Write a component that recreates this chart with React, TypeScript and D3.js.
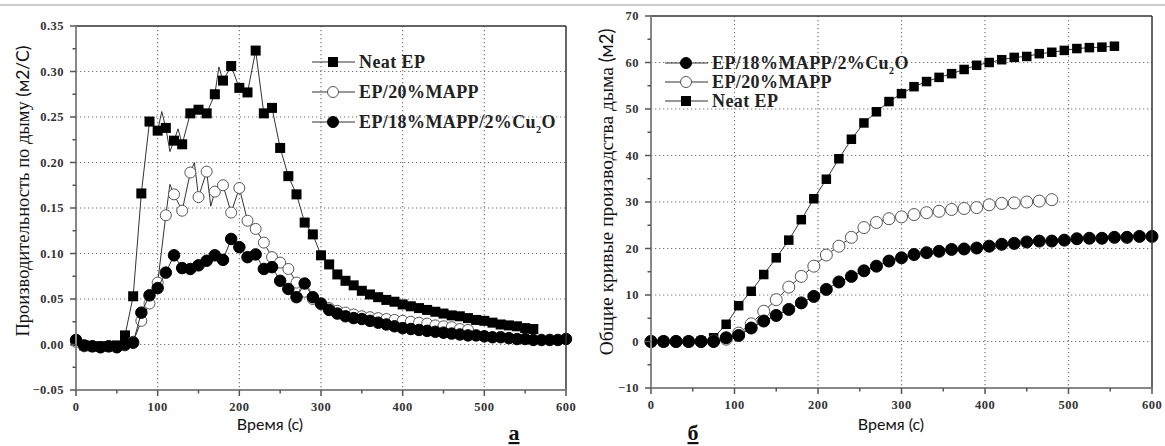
import React from 'react';
import * as d3 from 'd3';

const W = 1165, H = 446;

// panel а: smoke production rate, one marker every 10 s
const stepA = 10;
const neatA = [
  0.004, -0.001, -0.002, -0.002, -0.002, -0.001, 0.01, 0.053, 0.166, 0.245,
  0.235, 0.238, 0.224, 0.22, 0.254, 0.258, 0.254, 0.275, 0.29, 0.306,
  0.282, 0.277, 0.323, 0.254, 0.26, 0.216, 0.185, 0.165, 0.134, 0.121,
  0.098, 0.088, 0.077, 0.07, 0.065, 0.059, 0.055, 0.052, 0.049, 0.047,
  0.044, 0.042, 0.04, 0.038, 0.036, 0.034, 0.032, 0.031, 0.029, 0.027,
  0.026, 0.024, 0.022, 0.021, 0.02, 0.018, 0.017,
];
const mappA = [
  0.003, -0.002, -0.002, -0.003, -0.002, -0.003, -0.001, 0.003, 0.026, 0.045,
  0.068, 0.142, 0.165, 0.147, 0.189, 0.162, 0.19, 0.168, 0.175, 0.145,
  0.172, 0.136, 0.127, 0.112, 0.096, 0.09, 0.083, 0.068, 0.058, 0.05,
  0.044, 0.04, 0.037, 0.035, 0.033, 0.031, 0.03, 0.029, 0.028, 0.027,
  0.026, 0.025, 0.024, 0.023, 0.021, 0.02, 0.019, 0.017, 0.016,
];
const cuA = [
  0.005, -0.001, -0.002, -0.003, -0.002, -0.003, 0, 0.002, 0.035, 0.054,
  0.062, 0.079, 0.098, 0.084, 0.083, 0.087, 0.092, 0.098, 0.093, 0.116,
  0.107, 0.096, 0.099, 0.083, 0.085, 0.07, 0.061, 0.052, 0.067, 0.052,
  0.045, 0.038, 0.034, 0.031, 0.029, 0.028, 0.026, 0.024, 0.022, 0.02,
  0.018, 0.017, 0.016, 0.015, 0.014, 0.013, 0.012, 0.011, 0.01, 0.01,
  0.009, 0.008, 0.008, 0.007, 0.006, 0.006, 0.005, 0.005, 0.005, 0.005, 0.006,
];
// the raw trace has a few extra points between markers
const neatSpikesA = [[105, 0.256], [115, 0.212], [125, 0.237], [175, 0.305]];
const mappSpikesA = [[115, 0.176], [145, 0.2], [165, 0.152]];

// panel б: total smoke production, one marker every 15 s
const stepB = 15;
const cuB = [
  0, 0, 0, 0, 0, 0, 0.8, 1.3, 2.9, 4.4, 5.6, 6.9, 8.3, 9.7, 11.2, 12.8,
  14.0, 15.2, 16.2, 17.3, 18.0, 18.7, 19.1, 19.4, 19.8, 19.9,
  20.1, 20.5, 20.9, 21.1, 21.4, 21.6, 21.6, 21.8, 22.1, 22.2,
  22.2, 22.4, 22.4, 22.6, 22.6,
];
const mappB = [
  0, 0, 0, 0, 0, 0.1, 0.5, 1.8, 3.8, 6.5, 9.0, 11.7, 14.0, 16.2, 18.6, 20.5,
  22.4, 24.5, 25.6, 26.4, 26.8, 27.3, 27.7, 28.0, 28.4, 28.6,
  28.8, 29.4, 29.7, 29.8, 30.0, 30.2, 30.5,
];
const neatB = [
  0, 0, 0, 0, 0.1, 0.8, 3.7, 7.7, 10.8, 14.4, 18.0, 21.8, 26.2, 30.7, 34.9, 39.3,
  43.5, 47.0, 49.4, 51.6, 53.3, 54.8, 55.9, 56.8, 57.6, 58.5,
  59.4, 60.0, 60.6, 61.1, 61.3, 61.9, 62.2, 62.6, 63.0, 63.2,
  63.3, 63.5,
];

const timeTicks = [0, 100, 200, 300, 400, 500, 600];
const rateTicks = [-0.05, 0, 0.05, 0.1, 0.15, 0.2, 0.25, 0.3, 0.35];
const totalTicks = [-10, 0, 10, 20, 30, 40, 50, 60, 70];

const NEAT = 'Neat EP';
const MAPP = 'EP/20%MAPP';
const CU = 'EP/18%MAPP/2%Cu';

const serif = '"Liberation Serif", "Times New Roman", serif';
const sans = 'Lato, "Open Sans", sans-serif';

function Marker({ shape, cx, cy, s }) {
  if (shape === 'square')
    return <rect x={cx - s / 2} y={cy - s / 2} width={s} height={s} fill="#000" />;
  return (
    <circle cx={cx} cy={cy} r={s / 2}
      fill={shape === 'open' ? '#fff' : '#000'}
      stroke={shape === 'open' ? '#555' : '#000'} strokeWidth={1} />
  );
}

function LegendText({ label }) {
  if (label !== CU) return <>{label}</>;
  return (
    <>
      {label}
      <tspan fontSize={10} dy={5}>2</tspan>
      <tspan dy={-5}>O</tspan>
    </>
  );
}

function Panel({ p }) {
  const x = d3.scaleLinear().domain([0, 600]).range([p.left, p.right]);
  const y = d3.scaleLinear().domain(p.yDomain).range([p.bottom, p.top]);
  const line = d3.line().x(d => x(d[0])).y(d => y(d[1]));
  const fmt = p.fmt;

  const minorX = timeTicks.slice(1).map((t, i) => (t + timeTicks[i]) / 2);
  const minorY = p.yTicks.slice(1).map((t, i) => (t + p.yTicks[i]) / 2);

  return (
    <g>
      {/* dotted grid */}
      {timeTicks.slice(1, -1).map(t => (
        <line key={'gx' + t} x1={x(t)} x2={x(t)} y1={p.top} y2={p.bottom}
          stroke="#777" strokeWidth={1.2} strokeDasharray="1.3 2.7" />
      ))}
      {p.yTicks.slice(1, -1).map(t => (
        <line key={'gy' + t} x1={p.left} x2={p.right} y1={y(t)} y2={y(t)}
          stroke="#777" strokeWidth={1.2} strokeDasharray="1.3 2.7" />
      ))}

      {/* series */}
      {p.series.map(s => {
        const pts = s.vals.map((v, i) => [i * s.step, v]);
        const trace = pts.concat(s.extra || []).sort((a, b) => a[0] - b[0]);
        return (
          <g key={s.name}>
            <path d={line(trace)} fill="none" stroke="#333" strokeWidth={1} />
            {pts.map((d, i) => (
              <Marker key={i} shape={s.shape} cx={x(d[0])} cy={y(d[1])} s={s.size} />
            ))}
          </g>
        );
      })}

      {/* frame */}
      <line x1={p.left} x2={p.right} y1={p.top} y2={p.top} stroke="#333" strokeWidth={1.5} />
      <line x1={p.right} x2={p.right} y1={p.top} y2={p.bottom} stroke="#333" strokeWidth={1.5} />
      <line x1={p.left} x2={p.left} y1={p.top} y2={p.bottom + 1} stroke="#888" strokeWidth={2} />
      <line x1={p.left - 1} x2={p.right} y1={p.bottom} y2={p.bottom} stroke="#888" strokeWidth={2} />

      {/* ticks */}
      {timeTicks.map(t => (
        <g key={'tx' + t}>
          <line x1={x(t)} x2={x(t)} y1={p.bottom} y2={p.bottom + 6} stroke="#555" strokeWidth={1.5} />
          <text x={x(t)} y={p.bottom + 21} textAnchor="middle" fontFamily="Liberation Serif"
            fontWeight={700} fontSize={12.5} letterSpacing={0.5} fill="#333">{t}</text>
        </g>
      ))}
      {minorX.map(t => (
        <line key={'mx' + t} x1={x(t)} x2={x(t)} y1={p.bottom} y2={p.bottom + 3.5}
          stroke="#555" strokeWidth={1.5} />
      ))}
      {p.yTicks.map(t => (
        <g key={'ty' + t}>
          <line x1={p.left - 6} x2={p.left} y1={y(t)} y2={y(t)} stroke="#555" strokeWidth={1.5} />
          <text x={p.left - 12} y={y(t) + 4} textAnchor="end" fontFamily="Liberation Serif"
            fontWeight={700} fontSize={12.5} letterSpacing={0.5} fill="#333">{fmt(t)}</text>
        </g>
      ))}
      {minorY.map(t => (
        <line key={'my' + t} x1={p.left - 3.5} x2={p.left} y1={y(t)} y2={y(t)}
          stroke="#555" strokeWidth={1.5} />
      ))}

      {/* legend */}
      {p.legend.map((s, i) => {
        const ly = p.legendY + i * p.legendDy;
        return (
          <g key={'lg' + s.name}>
            <line x1={p.legendX} x2={p.legendX + 43} y1={ly} y2={ly} stroke="#333" strokeWidth={1.2} />
            <Marker shape={s.shape} cx={p.legendX + 21} cy={ly} s={s.shape === 'square' ? 10 : 11} />
            <text x={p.legendX + 47} y={ly + 6} fontFamily={serif} fontWeight="bold"
              fontSize={18} letterSpacing={0.4} fill="#222">
              <LegendText label={s.name} />
            </text>
          </g>
        );
      })}

      {/* axis titles */}
      <text transform={`translate(${p.yLabelX},${p.yLabelY}) rotate(-90)`} textAnchor="middle"
        fontSize={p.yLabelSize} fill="#111">
        <tspan fontFamily={serif}>{p.yLabel}</tspan>
        <tspan fontFamily={sans} fontSize={p.yLabelSize - 1}>{p.yUnit}</tspan>
      </text>
      <text x={p.xLabelX} y={430} textAnchor="middle" fontFamily={sans} fontSize={16} fill="#111">
        Время (с)
      </text>
      <text x={p.letterX} y={440} textAnchor="middle" fontFamily={serif} fontWeight="bold"
        fontSize={22} textDecoration="underline" fill="#111">{p.letter}</text>
    </g>
  );
}

const seriesA = [
  { name: NEAT, vals: neatA, step: stepA, extra: neatSpikesA, shape: 'square', size: 10 },
  { name: MAPP, vals: mappA, step: stepA, extra: mappSpikesA, shape: 'open', size: 11 },
  { name: CU, vals: cuA, step: stepA, shape: 'filled', size: 11.5 },
];
const seriesB = [
  { name: NEAT, vals: neatB, step: stepB, shape: 'square', size: 9.5 },
  { name: MAPP, vals: mappB, step: stepB, shape: 'open', size: 12 },
  { name: CU, vals: cuB, step: stepB, shape: 'filled', size: 12 },
];

const panelA = {
  left: 76, right: 566, top: 26, bottom: 390,
  yDomain: [-0.05, 0.35], yTicks: rateTicks, fmt: d3.format('.2f'),
  series: seriesA, legend: seriesA, legendX: 312, legendY: 62, legendDy: 30,
  yLabel: 'Производительность по дыму  ', yUnit: '(м2/С)', yLabelX: 29, yLabelY: 191,
  yLabelSize: 18.5,
  xLabelX: 270, letter: 'а', letterX: 514,
};
const panelB = {
  left: 651, right: 1152, top: 16, bottom: 388,
  yDomain: [-10, 70], yTicks: totalTicks, fmt: d3.format('d'),
  series: seriesB, legend: [seriesB[2], seriesB[1], seriesB[0]],
  legendX: 665, legendY: 63, legendDy: 19,
  yLabel: 'Общие кривые производства   дыма   ', yUnit: '(м2)', yLabelX: 613, yLabelY: 192,
  yLabelSize: 19.5,
  xLabelX: 891, letter: 'б', letterX: 693,
};

export default function App() {
  return (
    <svg width={W} height={H} style={{ position: 'absolute', left: 0, top: 0, background: '#fff' }}>
      <rect width={W} height={H} fill="#fff" />
      <line x1={0} x2={W} y1={5} y2={5} stroke="#999" strokeWidth={1} />
      <Panel p={panelA} />
      <Panel p={panelB} />
    </svg>
  );
}
